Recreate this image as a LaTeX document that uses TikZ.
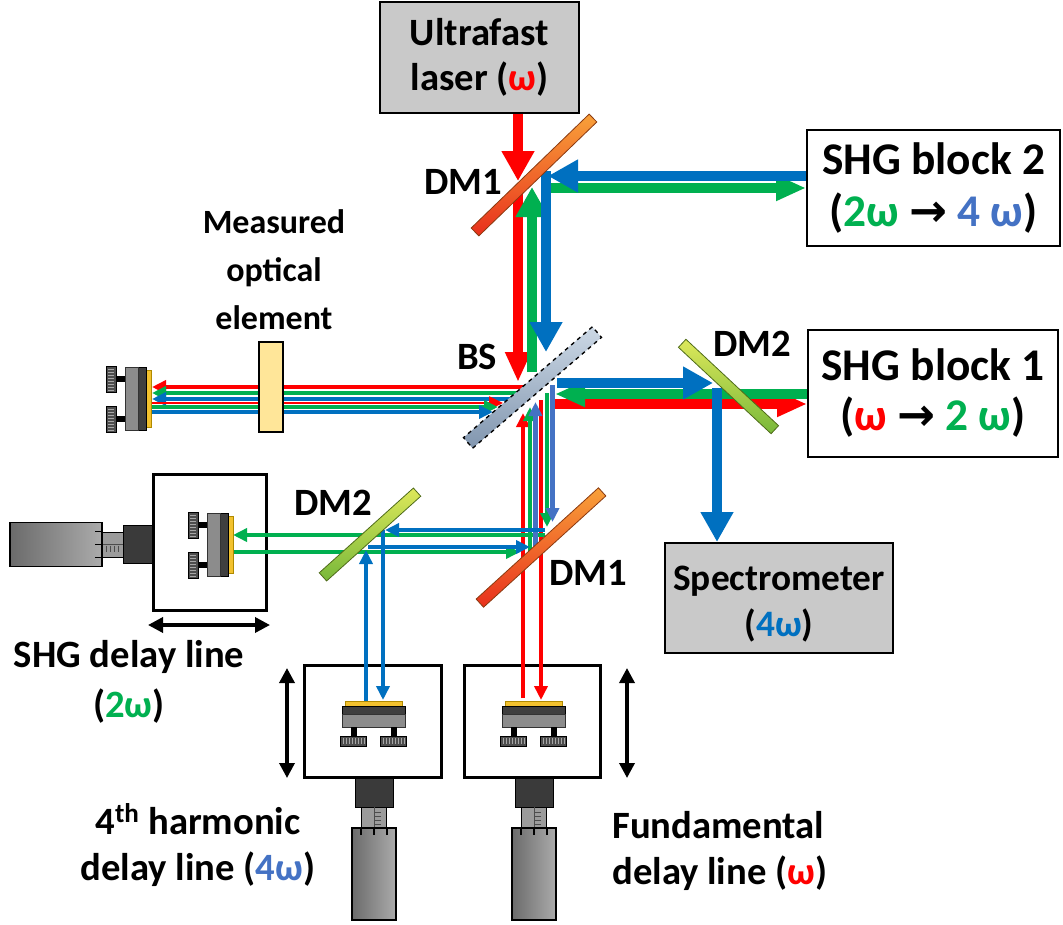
\documentclass[tikz,border=0pt]{standalone}
\usepackage{fontspec}
\setmainfont{Carlito}
\newfontfamily\symfont{DejaVu Sans}
\usetikzlibrary{arrows.meta}

\definecolor{bred}{HTML}{FF0000}
\definecolor{bgreen}{HTML}{00B050}
\definecolor{bblue}{HTML}{0070C0}
\definecolor{bblueL}{HTML}{4472C4}
\definecolor{panelgray}{HTML}{C9C9C9}
\definecolor{mountyellow}{HTML}{F2C12E}
\definecolor{mountyellowD}{HTML}{B08A00}
\definecolor{mountdark}{HTML}{3F3F3F}
\definecolor{mountgray}{HTML}{8C8C8C}
\definecolor{knobgray}{HTML}{4D4D4D}
\definecolor{knurl}{HTML}{A6A6A6}
\definecolor{actdark}{HTML}{3A3A3A}
\definecolor{screwgray}{HTML}{9B9B9B}
\definecolor{barrelA}{HTML}{6B6B6B}
\definecolor{barrelB}{HTML}{ABABAB}
\definecolor{elemyellow}{HTML}{FFE699}
\definecolor{dmoneA}{HTML}{F8A13A}
\definecolor{dmoneB}{HTML}{E8301C}
\definecolor{dmoneD}{HTML}{8A3A10}
\definecolor{dmtwoA}{HTML}{DDE85A}
\definecolor{dmtwoB}{HTML}{78B83A}
\definecolor{dmtwoD}{HTML}{4F6B1A}
\definecolor{bsA}{HTML}{CCD8E5}
\definecolor{bsB}{HTML}{8196AF}

\newcommand\diagfont{\fontsize{29}{34}\selectfont\bfseries}
\newcommand\goesto{{\symfont\bfseries →}}

\tikzset{
  % kinematic mirror mount, reflecting face at the origin, facing up
  mount/.pic={
    \fill[mountyellow, draw=mountyellowD, line width=0.4pt] (-28.5,0) rectangle (28.5,5);
    \fill[mountdark, draw=black, line width=0.5pt] (-31.5,5) rectangle (31.5,13);
    \fill[mountgray, draw=black!80, line width=0.5pt] (-31.5,13) rectangle (31.5,26);
    \fill[black] (-23,26) rectangle (-17,35);
    \fill[black] (17,26) rectangle (23,35);
    \foreach \k in {-20,20} {
      \fill[knobgray, draw=black, line width=0.5pt] (\k-13,35) rectangle (\k+13,45);
      \foreach \i in {-10,-7,...,11}
        \draw[knurl, line width=0.5pt] (\k+\i,37) -- (\k+\i,43);
    }
  },
  % micrometer actuator, attached at the origin, pointing down
  actuator/.pic={
    \fill[actdark, draw=black, line width=0.6pt] (-19,0) rectangle (19,30);
    \fill[screwgray, draw=black, line width=0.6pt] (-12.5,30) rectangle (12.5,51);
    \draw[black!70, line width=0.5pt] (0,30) -- (0,51);
    \foreach \t in {35,39,43,47} \draw[black!70, line width=0.5pt] (1,\t) -- (7,\t);
    \shade[left color=barrelA, right color=barrelB, draw=black, line width=0.8pt] (-22,51) rectangle (22,143);
    \foreach \t in {-13,0,13} \draw[black, line width=0.8pt] (\t,51) -- (\t,58);
  }
}

\begin{document}
\begin{tikzpicture}[x=0.75pt,y=-0.75pt,
  thickbeam/.style={line width=7.5pt},
  thinbeam/.style={line width=3.4pt},
  bighead/.style={-{Triangle[length=22.5pt,width=23.25pt]}},
  narrowhead/.style={-{Triangle[length=22.5pt,width=18pt]}},
  thinhead/.style={-{Triangle[length=10.5pt,width=9.75pt]}},
  panel/.style={draw=black, line width=1.5pt, fill=panelgray, align=center, inner sep=0pt},
  block/.style={draw=black, line width=1.5pt, fill=white, align=center, inner sep=0pt},
  stagebox/.style={draw=black, line width=2.25pt, fill=white, inner sep=0pt},
  travel/.style={line width=2.6pt, {Triangle[length=11.25pt,width=11.25pt]}-{Triangle[length=11.25pt,width=11.25pt]}},
  mirrorbar/.style={inner sep=0pt, minimum height=8.25pt, line width=0.6pt},
  dmone/.style={mirrorbar, draw=dmoneD, top color=dmoneA, bottom color=dmoneB},
  dmtwo/.style={mirrorbar, draw=dmtwoD, top color=dmtwoA, bottom color=dmtwoB},
  splitter/.style={inner sep=0pt, minimum height=10.5pt, draw=black, dashed, line width=1pt, top color=bsA, bottom color=bsB},
  txt/.style={inner sep=0pt, align=center, font=\diagfont},
]
\useasboundingbox (0,0) rectangle (1063,924);

% ---------- boxes ----------
\node[panel, font=\diagfont, minimum width=149.25pt, minimum height=83.25pt] (laser) at (479.5,57.5)
  {Ultrafast\\laser (\textcolor{bred}{ω})};
\node[block, font=\fontsize{34}{39}\selectfont\bfseries, minimum width=189.75pt, minimum height=87pt] (shg2) at (933.5,188)
  {SHG block 2\\(\textcolor{bgreen}{2ω} \goesto{} \textcolor{bblueL}{4 ω})};
\node[block, font=\fontsize{34}{37.5}\selectfont\bfseries, minimum width=187.5pt, minimum height=95.25pt] (shg1) at (933,393.5)
  {SHG block 1\\(\textcolor{bred}{ω} \goesto{} \textcolor{bgreen}{2 ω})};
\node[panel, minimum width=171pt, minimum height=82.5pt] (spec) at (779,598) {};
\node[txt, font=\fontsize{28}{35}\selectfont\bfseries] (spec-text) at (779,604)
  {Spectrometer\\(\textcolor{bblue}{4ω})};

% delay line stages with their actuators
\pic at (153,544.5) [rotate=-90] {actuator};
\pic at (374,777) {actuator};
\pic at (534,777) {actuator};
\node[stagebox, minimum width=84.75pt, minimum height=102pt] (shgdl) at (209.5,542) {};
\node[stagebox, minimum width=102.75pt, minimum height=84pt] (harmdl) at (372.5,721) {};
\node[stagebox, minimum width=102pt, minimum height=84pt] (funddl) at (532,721) {};

% ---------- thick beams ----------
\draw[thickbeam, bred, bighead] (518,0 |- laser.south) -- (518,181);
\draw[thickbeam, bred, narrowhead] (518,190) -- (518,382);
\draw[thickbeam, bred, narrowhead] (550,404) -- (shg1.west |- 0,404);

\draw[thickbeam, bgreen, bighead] (532,372) -- (532,187);
\draw[thickbeam, bgreen, narrowhead] (550,188) -- (shg2.west |- 0,188);
\draw[thickbeam, bgreen, narrowhead] (shg1.west |- 0,394) -- (555,394);

\draw[thickbeam, bblue] (546,171) -- (546,200);
\draw[thickbeam, bblue, bighead] (shg2.west |- 0,176) -- (548,176);
\draw[thickbeam, bblue, bighead] (546,190) -- (546,352);
\draw[thickbeam, bblue, bighead] (557,383) -- (713,383);
\draw[thickbeam, bblue, bighead] (717,388) -- (717,0 |- spec.north);

% ---------- thin beams to and from the measured element ----------
\draw[thinbeam, bred, thinhead] (525,387) -- (152,387);
\draw[thinbeam, bgreen, thinhead] (525,393) -- (152,393);
\draw[thinbeam, bblue, thinhead] (525,399) -- (152,399);
\draw[line width=1.9pt, bred, thinhead] (152,403) -- (503,403);
\draw[thinbeam, bgreen, thinhead] (152,407) -- (498,407);
\draw[thinbeam, bblue, thinhead] (152,412) -- (493,412);

% ---------- thin beams to the delay lines ----------
\draw[thinbeam, bred, thinhead] (523,698) -- (523,413);
\draw[thinbeam, bred, thinhead] (541,400) -- (541,700);
\draw[thinbeam, bgreen, thinhead] (530,552) -- (530,407);
\draw[thinbeam, bgreen, thinhead] (547,393) -- (547,527);
\draw[thinbeam, bgreen, thinhead] (545,535) -- (233,535);
\draw[thinbeam, bgreen, thinhead] (233,552) -- (520,552);
\draw[thinbeam, bblueL, thinhead] (535.5,547) -- (535.5,402);
\draw[thinbeam, bblueL, thinhead] (552.5,385) -- (552.5,522);
\draw[thinbeam, bblue, thinhead] (545,530) -- (385,530);
\draw[thinbeam, bblue, thinhead] (368,547) -- (530,547);
\draw[thinbeam, bblue, thinhead] (366,701) -- (366,550);
\draw[thinbeam, bblue, thinhead] (383,530) -- (383,700);

% ---------- mirrors and beam splitter ----------
\node[dmone, minimum width=123pt, rotate=44] (dm1a) at (534,175) {};
\node[splitter, minimum width=127.5pt, rotate=40.7] (bs) at (532.5,387.5) {};
\node[dmtwo, minimum width=95pt, rotate=-43] (dm2a) at (728.5,386.5) {};
\node[dmtwo, minimum width=95pt, rotate=42] (dm2b) at (370,534.5) {};
\node[dmone, minimum width=124pt, rotate=42.3] (dm1b) at (541,547.5) {};

% measured optical element and mirror mounts
\node[draw=black, line width=0.8pt, fill=elemyellow, minimum width=18pt, minimum height=67.5pt, inner sep=0pt] (moe) at (271,387) {};
\pic at (151,399) [rotate=-90] {mount};
\pic at (233,545) [rotate=-90] {mount};
\pic at (373.5,701) {mount};
\pic at (533.5,701) {mount};

% travel directions of the stages
\draw[travel] (148,625) -- (270,625);
\draw[travel] (287,668) -- (287,778);
\draw[travel] (627,668) -- (627,778);

% ---------- labels ----------
\node[txt] (l-dm1a) at (463,182) {DM1};
\node[txt] (l-bs) at (477,357) {BS};
\node[txt] (l-dm2a) at (752,344) {DM2};
\node[txt] (l-dm2b) at (333,503) {DM2};
\node[txt] (l-dm1b) at (588,573) {DM1};
\node[txt, font=\fontsize{25.5}{36}\selectfont\bfseries] (l-moe) at (274,270) {Measured\\optical\\element};
\node[txt, font=\fontsize{29}{37.5}\selectfont\bfseries] (l-shgdl) at (129,682) {SHG delay line\\(\textcolor{bgreen}{2ω})};
\node[txt, font=\fontsize{29}{34.5}\selectfont\bfseries] (l-harm) at (198,845) {4\textsuperscript{th} harmonic\\delay line (\textcolor{bblueL}{4ω})};
\node[txt, align=left, anchor=west, font=\fontsize{29}{34.5}\selectfont\bfseries] (l-fund) at (612,851) {Fundamental\\delay line (\textcolor{bred}{ω})};
\end{tikzpicture}
\end{document}
